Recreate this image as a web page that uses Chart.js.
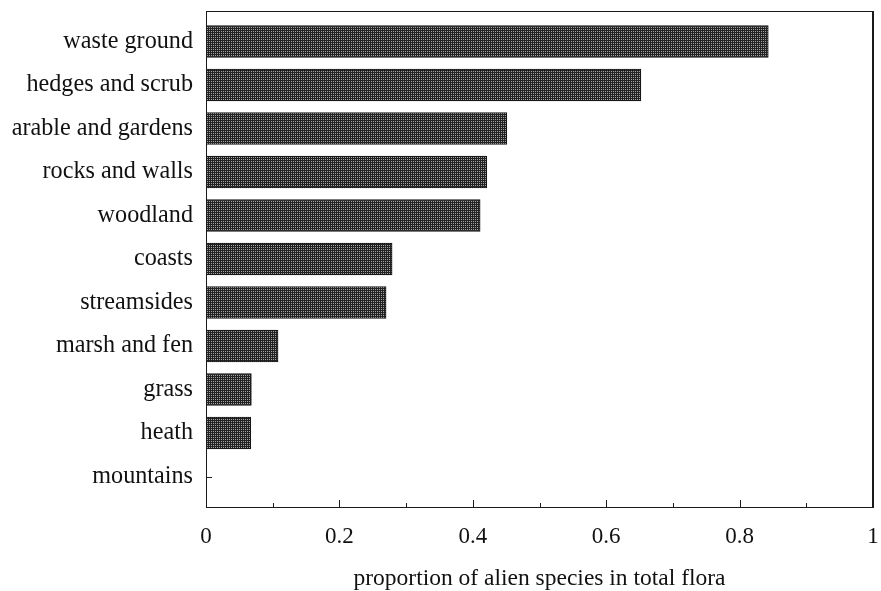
<!DOCTYPE html>
<html>
<head>
<meta charset="utf-8">
<script src="https://cdn.jsdelivr.net/npm/chart.js@4.4.1/dist/chart.umd.min.js"></script>
<style>
  html, body { margin: 0; padding: 0; background: #fff; }
</style>
</head>
<body>
<canvas id="chart" width="881" height="591"></canvas>
<script>
// habitats, top to bottom
const habitats = [
  'waste ground', 'hedges and scrub', 'arable and gardens', 'rocks and walls',
  'woodland', 'coasts', 'streamsides', 'marsh and fen', 'grass', 'heath', 'mountains'
];
const alienShare = [0.843, 0.652, 0.451, 0.421, 0.411, 0.279, 0.270, 0.108, 0.068, 0.067, 0];
const xTickValues = [0, 0.2, 0.4, 0.6, 0.8, 1];
const xMinorTicks = [0.1, 0.3, 0.5, 0.7, 0.9];

const serif = '"Liberation Serif", "DejaVu Serif", serif';

// halftone-ish fill like the printed figure
function makePattern() {
  const c = document.createElement('canvas');
  c.width = 2; c.height = 2;
  const g = c.getContext('2d');
  g.fillStyle = '#222';
  g.fillRect(0, 0, 2, 2);
  g.fillStyle = '#a4a4a4';
  g.fillRect(1, 1, 1, 1);
  return g.createPattern(c, 'repeat');
}

function line(ctx, x1, y1, x2, y2) {
  ctx.beginPath();
  ctx.moveTo(x1, y1);
  ctx.lineTo(x2, y2);
  ctx.stroke();
}

// box round the plot and ticks pointing inwards
const frameTicks = {
  id: 'frameTicks',
  beforeDatasetsDraw(chart) {
    const ctx = chart.ctx, a = chart.chartArea, y = chart.scales.y;
    ctx.save();
    ctx.strokeStyle = '#222';
    ctx.lineWidth = 1;
    habitats.forEach((h, i) => {
      const py = Math.round(y.getPixelForValue(i)) + 0.5;
      line(ctx, a.left, py, a.left + 6, py);
    });
    ctx.restore();
  },
  afterDraw(chart) {
    const ctx = chart.ctx, a = chart.chartArea, x = chart.scales.x;
    ctx.save();
    ctx.strokeStyle = '#1a1a1a';
    ctx.lineWidth = 1;
    ctx.strokeRect(Math.round(a.left) + 0.5, Math.round(a.top) + 0.5,
      Math.round(a.right - a.left) - 1, Math.round(a.bottom - a.top));
    ctx.lineWidth = 2;
    line(ctx, a.right, a.top, a.right, a.bottom + 1);
    ctx.lineWidth = 1;
    xTickValues.forEach(v => {
      const px = Math.round(x.getPixelForValue(v)) + 0.5;
      line(ctx, px, a.bottom, px, a.bottom - 7);
    });
    xMinorTicks.forEach(v => {
      const px = Math.round(x.getPixelForValue(v)) + 0.5;
      line(ctx, px, a.bottom, px, a.bottom - 4);
    });
    ctx.restore();
  }
};

const ctx = document.getElementById('chart').getContext('2d');
new Chart(ctx, {
  type: 'bar',
  data: {
    datasets: [{
      data: habitats.map((h, i) => ({ x: alienShare[i], y: i })),
      backgroundColor: makePattern(),
      borderColor: '#141414',
      borderWidth: 1,
      borderSkipped: false,
      barThickness: 32
    }]
  },
  options: {
    indexAxis: 'y',
    responsive: false,
    animation: false,
    layout: { padding: { top: 11, right: 8, bottom: 0, left: 0 } },
    plugins: {
      legend: { display: false },
      tooltip: { enabled: false }
    },
    scales: {
      x: {
        type: 'linear',
        position: 'bottom',
        min: 0,
        max: 1,
        grid: { display: false, drawTicks: false },
        border: { display: false },
        afterBuildTicks: (s) => { s.ticks = xTickValues.map(v => ({ value: v })); },
        afterFit: (s) => {
          s.height = 84;
          s.paddingLeft = 0;
          s.paddingRight = 0;
        },
        ticks: {
          padding: 16,
          maxRotation: 0,
          color: '#111',
          font: { family: serif, size: 23 },
          callback: (v) => String(v)
        },
        title: {
          display: true,
          text: 'proportion of alien species in total flora',
          color: '#111',
          font: { family: serif, size: 23.5, lineHeight: 1 },
          padding: { top: 0, bottom: 0 }
        }
      },
      y: {
        type: 'linear',
        offset: false,
        min: -0.7,
        max: 10.7,
        reverse: true,
        grid: { display: false, drawTicks: false, offset: false },
        border: { display: false },
        afterBuildTicks: (s) => { s.ticks = habitats.map((h, i) => ({ value: i })); },
        afterFit: (s) => {
          s.width = 206;
          s.paddingTop = 0;
          s.paddingBottom = 0;
        },
        ticks: {
          autoSkip: false,
          padding: 13,
          color: '#111',
          font: { family: serif, size: 24.2 },
          callback: (v) => habitats[v]
        }
      }
    }
  },
  plugins: [frameTicks]
});
</script>
</body>
</html>
